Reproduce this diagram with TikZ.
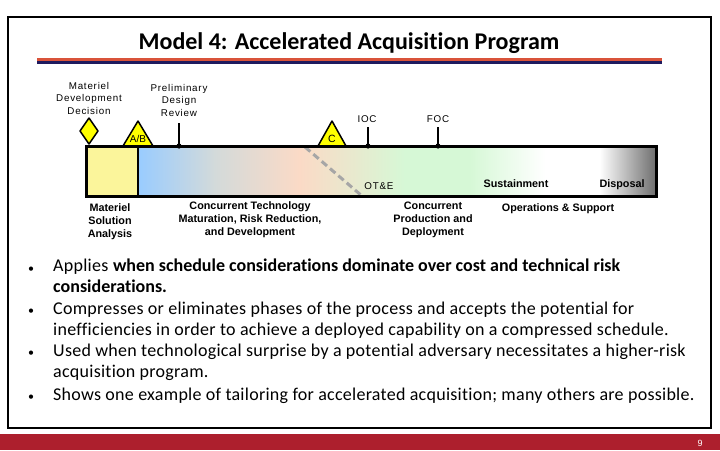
\documentclass[tikz,border=0pt]{standalone}
\usepackage{fontspec}
\setmainfont{Carlito}[LetterSpace=1.5, Ligatures=NoCommon, BoldFeatures={LetterSpace=0}]
\newfontfamily\titlefont{Carlito}[Ligatures=NoCommon]
\newfontfamily\arialfont{Liberation Sans}
\newfontfamily\lblfont[LetterSpace=8]{Liberation Sans}
\definecolor{titleorange}{HTML}{D9533A}
\definecolor{titlenavy}{HTML}{1F1A5E}
\definecolor{footred}{HTML}{AD1F2D}
\definecolor{msayellow}{HTML}{FBF59B}
\definecolor{gblue}{HTML}{99CCFF}
\definecolor{ggray}{HTML}{D3DADA}
\definecolor{gpeach}{HTML}{FBDAC6}
\definecolor{ggreen}{HTML}{D6F8D6}
\definecolor{gdark}{HTML}{6E6E6E}
\definecolor{triyellow}{HTML}{FFFF00}
\definecolor{dashgray}{HTML}{A6A6A6}
\begin{document}
\begin{tikzpicture}[x=1pt,y=-1pt,
  smalllbl/.style={font=\lblfont\fontsize{9.8}{12.5}\selectfont, align=center, inner sep=0pt},
  phaselbl/.style={font=\arialfont\bfseries\fontsize{10.8}{13}\selectfont, align=center, inner sep=0pt},
  trimark/.style={fill=triyellow, draw=black, line width=1.5pt, line join=round},
  pinline/.style={line width=1.6pt},
  bullettext/.style={font=\fontsize{18}{21}\selectfont, align=left, anchor=base west, inner sep=0pt},
  bulletdot/.style={font=\fontsize{12}{12}\selectfont, anchor=base, inner sep=0pt}]
\useasboundingbox (0,0) rectangle (720,450);
\fill[white] (0,0) rectangle (720,450);
% frame and footer
\draw[line width=2.5pt] (8,17) rectangle (711,428);
\fill[footred] (0,434) rectangle (720,450);
\node[white, font=\arialfont\fontsize{9}{10}\selectfont, inner sep=0pt] (pagenum) at (700,443) {9};
% title
\node[font=\titlefont\bfseries\fontsize{24}{28}\selectfont, inner sep=0pt] (title) at (349,43) {Model 4: Accelerated Acquisition Program};
\fill[titleorange] (37,57.5) rectangle (662,60.5);
\fill[titlenavy] (37,60.5) rectangle (662,63.5);
% bar fills
\fill[msayellow] (86,146) rectangle (138,196);
\shade[left color=gblue, right color=ggray] (138,146) rectangle (215,196);
\shade[left color=ggray, right color=gpeach] (214.5,146) rectangle (300,196);
\shade[left color=gpeach, right color=ggreen] (299.5,146) rectangle (405,196);
\fill[ggreen] (404.5,146) rectangle (470,196);
\shade[left color=ggreen, right color=white] (469.5,146) rectangle (545,196);
\fill[white] (544.5,146) rectangle (600,196);
\shade[left color=white, right color=gdark] (599.5,146) rectangle (656,196);
% dashed OT&E line
\coordinate (dashA) at (305,147);
\coordinate (dashB) at (362,196);
\draw[dashgray, line width=3pt, dash pattern=on 7pt off 4pt] (dashA) -- (dashB);
% milestones
\draw[trimark] (123,146) -- (138,121) -- (153,146) -- cycle;
\node[font=\arialfont\fontsize{10}{10}\selectfont, inner sep=0pt] (ab) at (138,138.5) {A/B};
\draw[trimark] (318,146) -- (332,121) -- (346,146) -- cycle;
\node[font=\arialfont\fontsize{10.5}{10}\selectfont, inner sep=0pt] (c) at (332,138.5) {C};
\draw[trimark] (89,118) -- (98,131) -- (89,144) -- (80,131) -- cycle;
% bar outline
\draw[line width=3pt] (86,146) rectangle (656,196);
\draw[line width=2pt] (138,146) -- (138,196);
% pins
\coordinate (pdrtop) at (179,123);
\coordinate (pdrbot) at (179,146);
\draw[pinline] (pdrtop) -- (pdrbot);
\fill (pdrbot) circle (2.6);
\coordinate (ioctop) at (368,127);
\coordinate (iocbot) at (368,146);
\draw[pinline] (ioctop) -- (iocbot);
\fill (iocbot) circle (2.6);
\coordinate (foctop) at (438,127);
\coordinate (focbot) at (438,146);
\draw[pinline] (foctop) -- (focbot);
\fill (focbot) circle (2.6);
% top labels
\node[smalllbl] (mdd) at (89,98) {Materiel\\Development\\Decision};
\node[smalllbl] (pdr) at (179,100) {Preliminary\\Design\\Review};
\node[smalllbl] (ioc) at (367,119) {IOC};
\node[smalllbl] (foc) at (438,119) {FOC};
% inside bar labels
\node[smalllbl] (ote) at (379,186) {OT\&E};
\node[phaselbl] (sust) at (516,184) {Sustainment};
\node[phaselbl] (disp) at (622,185) {Disposal};
% below bar labels
\node[phaselbl] (msa) at (110,222) {Materiel\\Solution\\Analysis};
\node[phaselbl] (ctm) at (250,220) {Concurrent Technology\\Maturation, Risk Reduction,\\and Development};
\node[phaselbl] (cpd) at (433,220) {Concurrent\\Production and\\Deployment};
\node[phaselbl] (ops) at (558,209) {Operations \& Support};
% bullets
\node[bulletdot] (b1) at (31,272) {•};
\node[bullettext] (t1) at (53,292) {Applies \textbf{when schedule considerations dominate over cost and technical risk}\\\textbf{considerations.}};
\node[bulletdot] (b2) at (31,314) {•};
\node[bullettext] (t2) at (53,335) {Compresses or eliminates phases of the process and accepts the potential for\\inefficiencies in order to achieve a deployed capability on a compressed schedule.};
\node[bulletdot] (b3) at (31,356) {•};
\node[bullettext] (t3) at (53,377) {Used when technological surprise by a potential adversary necessitates a higher-risk\\acquisition program.};
\node[bulletdot] (b4) at (31,400) {•};
\node[bullettext] (t4) at (53,400) {Shows one example of tailoring for accelerated acquisition; many others are possible.};
\end{tikzpicture}
\end{document}
